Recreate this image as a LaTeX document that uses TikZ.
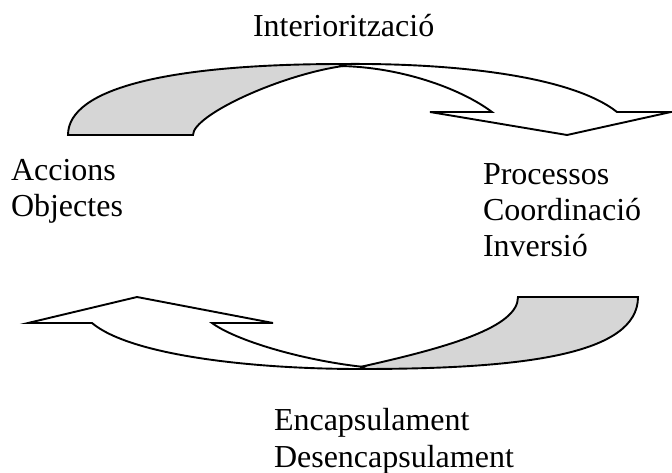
\documentclass[tikz,border=0pt]{standalone}
\usepackage{fontspec}
\setmainfont{Liberation Serif}
\begin{document}
\begin{tikzpicture}[x=1pt,y=-1pt,
  band/.style={draw=black,line width=1.9pt,line join=miter},
  backband/.style={band,fill=black!16},
  frontband/.style={band,fill=white},
  lbl/.style={inner sep=0pt,outer sep=0pt,align=left,anchor=base west,
    font=\fontsize{32}{36.5}\selectfont}]
\useasboundingbox (0,0) rectangle (672,473);

% upper curved arrow: shaded back part
\draw[backband] (68,135) -- (193,135)
  .. controls (193,115) and (280,75) .. (343,66)
  -- (343,64)
  .. controls (170,64) and (68,88) .. (68,135) -- cycle;
% upper curved arrow: front part with the head
\draw[frontband] (343,64)
  .. controls (450,63) and (570,75) .. (617,112)
  -- (671,112) -- (567,135) -- (430,112) -- (492,112)
  .. controls (460,88) and (400,67) .. (340,66) -- cycle;

% lower curved arrow: shaded back part
\draw[backband] (638,297) -- (518,297)
  .. controls (518,327) and (450,347) .. (360,367)
  -- (360,369)
  .. controls (522,369) and (638,355) .. (638,297) -- cycle;
% lower curved arrow: front part with the head
\draw[frontband] (360,369)
  .. controls (250,369) and (130,355) .. (92,323)
  -- (28,323) -- (137,297) -- (273,323) -- (212,323)
  .. controls (235,340) and (300,360) .. (364,367) -- cycle;

% labels (anchored on the baseline of their last line)
\node[lbl] (top) at (253,37) {Interiorització};
\node[lbl] (left) at (11,217) {Accions\\Objectes};
\node[lbl] (right) at (483,257) {Processos\\Coordinació\\Inversió};
\node[lbl] (bottom) at (274,467) {Encapsulament\\Desencapsulament};
\end{tikzpicture}
\end{document}
